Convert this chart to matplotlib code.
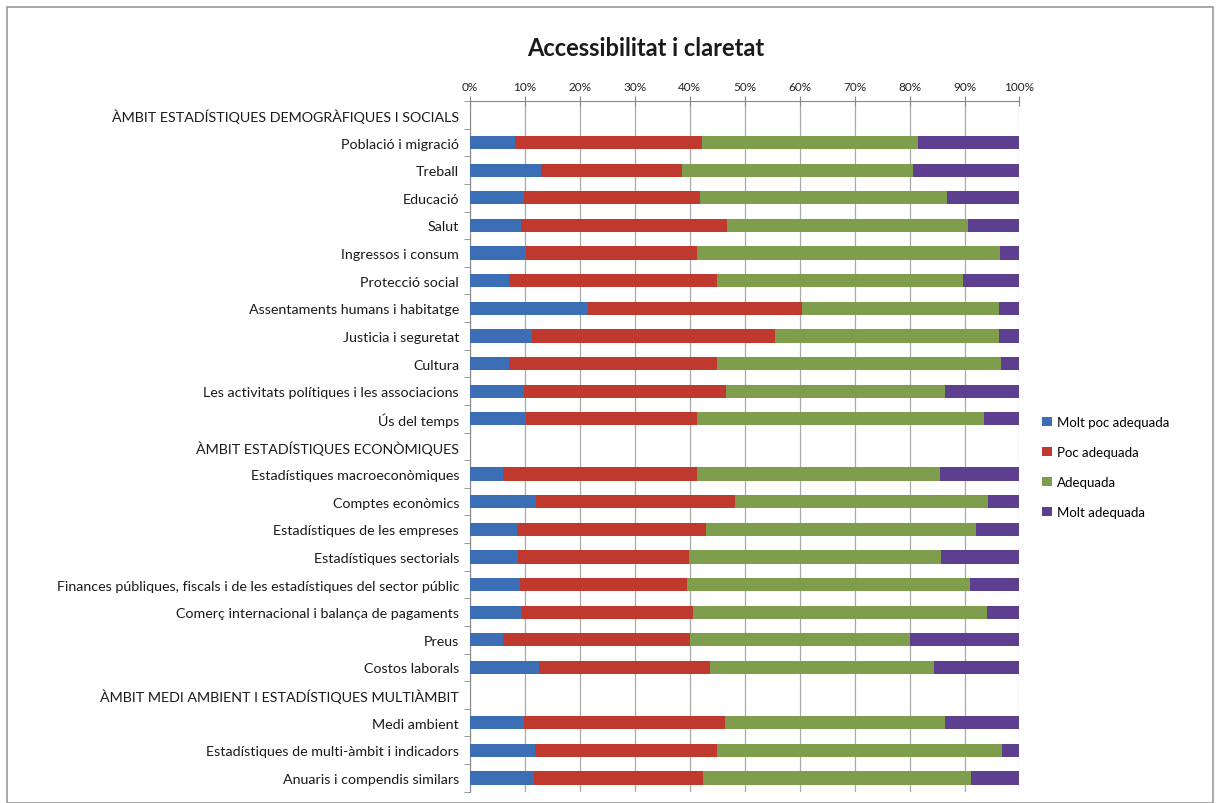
import numpy as np
import matplotlib
matplotlib.use("Agg")
from matplotlib import pyplot as plt
from matplotlib.ticker import PercentFormatter, FixedLocator

plt.rcParams['font.family'] = ['Lato', 'DejaVu Sans']

categories = [
    "ÀMBIT ESTADÍSTIQUES DEMOGRÀFIQUES I SOCIALS",
    "Població i migració",
    "Treball",
    "Educació",
    "Salut",
    "Ingressos i consum",
    "Protecció social",
    "Assentaments humans i habitatge",
    "Justicia i seguretat",
    "Cultura",
    "Les activitats polítiques i les associacions",
    "Ús del temps",
    "ÀMBIT ESTADÍSTIQUES ECONÒMIQUES",
    "Estadístiques macroeconòmiques",
    "Comptes econòmics",
    "Estadístiques de les empreses",
    "Estadístiques sectorials",
    "Finances públiques, fiscals i de les estadístiques del sector públic",
    "Comerç internacional i balança de pagaments",
    "Preus",
    "Costos laborals",
    "ÀMBIT MEDI AMBIENT I ESTADÍSTIQUES MULTIÀMBIT",
    "Medi ambient",
    "Estadístiques de multi-àmbit i indicadors",
    "Anuaris i compendis similars",
]

# percentages per category (section headers are empty rows)
molt_poc = [0, 8.1, 12.9, 9.8, 9.3, 10.2, 7.0, 21.5, 11.2, 7.0, 9.8, 10.2,
            0, 6.0, 12.0, 8.5, 8.8, 9.0, 9.4, 6.0, 12.5,
            0, 9.8, 11.8, 11.6]
poc = [0, 34.1, 25.7, 32.1, 37.4, 31.1, 37.9, 39.0, 44.3, 37.9, 36.8, 31.1,
       0, 35.3, 36.3, 34.4, 31.1, 30.5, 31.2, 34.0, 31.2,
       0, 36.6, 33.2, 30.8]
adequada = [0, 39.4, 42.0, 44.9, 43.9, 55.2, 44.8, 35.8, 40.8, 51.7, 39.9, 52.2,
            0, 44.2, 45.9, 49.2, 45.8, 51.5, 53.4, 40.0, 40.8,
            0, 40.1, 51.8, 48.7]
molt_adequada = [0, 18.4, 19.4, 13.2, 9.4, 3.5, 10.3, 3.7, 3.7, 3.4, 13.5, 6.5,
                 0, 14.5, 5.8, 7.9, 14.3, 9.0, 6.0, 20.0, 15.5,
                 0, 13.5, 3.2, 8.9]

series_names = ["Molt poc adequada", "Poc adequada", "Adequada", "Molt adequada"]
colors = ['#3B6EB5', '#C0392F', '#7E9E4D', '#5C3F8F']

fig = plt.figure(figsize=(12.18, 8.04), dpi=100)
ax = fig.add_axes([0.386, 0.014, 0.451, 0.859])

y = np.arange(len(categories))
left = np.zeros(len(categories))
for vals, name, col in zip([molt_poc, poc, adequada, molt_adequada], series_names, colors):
    vals = np.array(vals)
    ax.barh(y, vals, left=left, height=0.48, color=col, label=name, zorder=3)
    left += vals

ax.set_xlim(0, 100)
ax.set_ylim(len(categories) - 0.5, -0.5)
ax.xaxis.set_major_locator(FixedLocator(np.arange(0, 101, 10)))
ax.xaxis.set_major_formatter(PercentFormatter(decimals=0))
ax.xaxis.tick_top()
ax.tick_params(axis='x', direction='inout', length=7, color='#888888',
               labelsize=8.5, pad=3, labelcolor='#222222')
ax.grid(axis='x', color='#a8a8a8', linewidth=0.9, zorder=0)

ax.set_yticks(y)
ax.set_yticklabels(categories, fontsize=10.3, color='#1a1a1a')
ax.tick_params(axis='y', length=0, pad=8)
ax.set_yticks(np.arange(-0.5, len(categories), 1), minor=True)
ax.tick_params(axis='y', which='minor', length=4, color='#888888')

for s in ['right', 'bottom']:
    ax.spines[s].set_visible(False)
ax.spines['top'].set_color('#888888')
ax.spines['left'].set_color('#888888')

fig.text(0.53, 0.94, "Accessibilitat i claretat", ha='center', va='center',
         fontsize=17, fontweight='bold', color='#1a1a1a')

ax.legend(loc='center left', bbox_to_anchor=(1.02, 0.47), frameon=False,
          fontsize=9.5, handlelength=0.7, handleheight=0.7, handletextpad=0.4,
          labelspacing=1.35)

# outer chart frame
fig.patches.append(plt.Rectangle((0.006, 0.0), 0.99, 0.99, transform=fig.transFigure,
                                 fill=False, edgecolor='#999999', linewidth=1.2))

fig.savefig("out.png", dpi=100)
